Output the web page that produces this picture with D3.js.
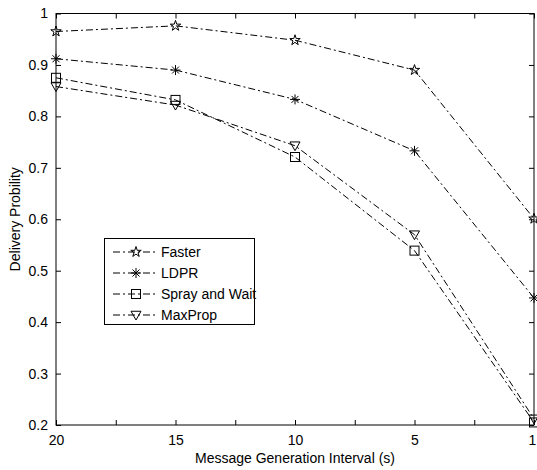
<!DOCTYPE html>
<html>
<head>
<meta charset="utf-8">
<script src="https://cdn.jsdelivr.net/npm/d3@7"></script>
<style>
  body { margin: 0; background: #fff; }
  text { font-family: "Liberation Sans Narrow", "Arial Narrow", "Liberation Sans", Arial, sans-serif; fill: #000; }
</style>
</head>
<body>
<div id="chart"></div>
<script>
// x categories (placed on every other tick) and tick labels
const intervals = ["20", "15", "10", "5", "1"];
const xTickLabels = ["20", "", "15", "", "10", "", "5", "", "1"];
const yTicks = [0.2, 0.3, 0.4, 0.5, 0.6, 0.7, 0.8, 0.9, 1];

// delivery probability per series
const faster = [0.965, 0.976, 0.948, 0.890, 0.601];
const ldpr = [0.912, 0.890, 0.833, 0.733, 0.447];
const sprayWait = [0.875, 0.832, 0.721, 0.539, 0.205];
const maxProp = [0.858, 0.822, 0.743, 0.570, 0.212];

const seriesNames = ["Faster", "LDPR", "Spray and Wait", "MaxProp"];
const seriesMarkers = ["star", "asterisk", "square", "triangle"];

const series = [faster, ldpr, sprayWait, maxProp].map((vals, i) => ({
	name: seriesNames[i],
	marker: seriesMarkers[i],
	values: vals.map((v, j) => ({ idx: j * 2, v: v }))
}));

const W = 537, H = 470;
const plot = { left: 56, right: 534, top: 13.5, bottom: 425 };
const fontSize = 14;

const svg = d3.select("#chart").append("svg")
	.attr("width", W).attr("height", H);

const x = d3.scaleLinear().domain([0, 8]).range([plot.left, plot.right]);
const y = d3.scaleLinear().domain([0.2, 1]).range([plot.bottom, plot.top]);

// Axes with inward ticks on all four sides (MATLAB box)
const tickLen = 5;
const bottomAxis = d3.axisBottom(x).tickValues(d3.range(0, 9))
	.tickSize(-tickLen).tickPadding(10).tickFormat(d => xTickLabels[d]);
const topAxis = d3.axisTop(x).tickValues(d3.range(0, 9))
	.tickSize(-tickLen).tickFormat("");
const leftAxis = d3.axisLeft(y).tickValues(yTicks)
	.tickSize(-tickLen).tickPadding(8).tickFormat(d => d === 1 ? "1" : d3.format(".1f")(d));
const rightAxis = d3.axisRight(y).tickValues(yTicks)
	.tickSize(-tickLen).tickFormat("");

function styleAxis(g) {
	g.selectAll(".domain").remove();
	g.selectAll("line").attr("stroke", "#000");
	g.selectAll("text").attr("font-size", fontSize);
	g.attr("font-family", null).attr("font-size", null);
}

const xAxisG = svg.append("g").attr("transform", `translate(0,${plot.bottom})`).call(bottomAxis).call(styleAxis);
// keep the last label inside the window
xAxisG.selectAll(".tick text").filter(d => d === 8).attr("dx", -2);
svg.append("g").attr("transform", `translate(0,${plot.top})`).call(topAxis).call(styleAxis);
svg.append("g").attr("transform", `translate(${plot.left},0)`).call(leftAxis).call(styleAxis);
svg.append("g").attr("transform", `translate(${plot.right},0)`).call(rightAxis).call(styleAxis);

svg.append("rect")
	.attr("x", plot.left).attr("y", plot.top)
	.attr("width", plot.right - plot.left).attr("height", plot.bottom - plot.top)
	.attr("fill", "none").attr("stroke", "#000").attr("stroke-width", 1);

// axis labels
svg.append("text")
	.attr("x", (plot.left + plot.right) / 2).attr("y", 463)
	.attr("text-anchor", "middle").attr("font-size", fontSize)
	.text("Message Generation Interval (s)");

svg.append("text")
	.attr("transform", `translate(20,${(plot.top + plot.bottom) / 2}) rotate(-90)`)
	.attr("text-anchor", "middle").attr("font-size", fontSize)
	.text("Delivery Probility");

// markers
function drawMarker(g, type, cx, cy) {
	const s = 5;
	if (type === "star") {
		const pts = d3.range(10).map(k => {
			const r = k % 2 === 0 ? s + 0.5 : s * 0.42;
			const a = -Math.PI / 2 + k * Math.PI / 5;
			return [cx + r * Math.cos(a), cy + r * Math.sin(a)];
		});
		g.append("polygon").attr("points", pts.map(p => p.join(",")).join(" "))
			.attr("fill", "none").attr("stroke", "#000").attr("stroke-width", 1);
	} else if (type === "asterisk") {
		const p = d3.path();
		p.moveTo(cx - s, cy); p.lineTo(cx + s, cy);
		p.moveTo(cx, cy - s); p.lineTo(cx, cy + s);
		p.moveTo(cx - s * 0.7, cy - s * 0.7); p.lineTo(cx + s * 0.7, cy + s * 0.7);
		p.moveTo(cx - s * 0.7, cy + s * 0.7); p.lineTo(cx + s * 0.7, cy - s * 0.7);
		g.append("path").attr("d", p.toString()).attr("stroke", "#000").attr("stroke-width", 1);
	} else if (type === "square") {
		g.append("rect").attr("x", cx - s + 0.5).attr("y", cy - s + 0.5)
			.attr("width", 2 * s - 1).attr("height", 2 * s - 1)
			.attr("fill", "none").attr("stroke", "#000").attr("stroke-width", 1);
	} else if (type === "triangle") {
		const pts = [[cx - s, cy - s * 0.75], [cx + s, cy - s * 0.75], [cx, cy + s]];
		g.append("polygon").attr("points", pts.map(p => p.join(",")).join(" "))
			.attr("fill", "none").attr("stroke", "#000").attr("stroke-width", 1);
	}
}

const dash = "7,3,2,3";
const line = d3.line().x(d => x(d.idx)).y(d => y(d.v));

series.forEach(s => {
	svg.append("path")
		.datum(s.values)
		.attr("d", line)
		.attr("fill", "none")
		.attr("stroke", "#000")
		.attr("stroke-width", 1)
		.attr("stroke-dasharray", dash);
	const mg = svg.append("g");
	s.values.forEach(d => drawMarker(mg, s.marker, x(d.idx), y(d.v)));
});

// legend
const legend = { x: 104, y: 238, w: 150, h: 86, row: 21 };
svg.append("rect")
	.attr("x", legend.x + 0.5).attr("y", legend.y + 0.5)
	.attr("width", legend.w).attr("height", legend.h)
	.attr("fill", "#fff").attr("stroke", "#000").attr("stroke-width", 1);

series.forEach((s, i) => {
	const cy = legend.y + 14 + i * legend.row;
	const g = svg.append("g");
	g.append("line")
		.attr("x1", legend.x + 9).attr("x2", legend.x + 54)
		.attr("y1", cy).attr("y2", cy)
		.attr("stroke", "#000").attr("stroke-width", 1)
		.attr("stroke-dasharray", dash);
	drawMarker(g, s.marker, legend.x + 32, cy);
	g.append("text")
		.attr("x", legend.x + 57).attr("y", cy + 5)
		.attr("font-size", fontSize)
		.text(s.name);
});
</script>
</body>
</html>
